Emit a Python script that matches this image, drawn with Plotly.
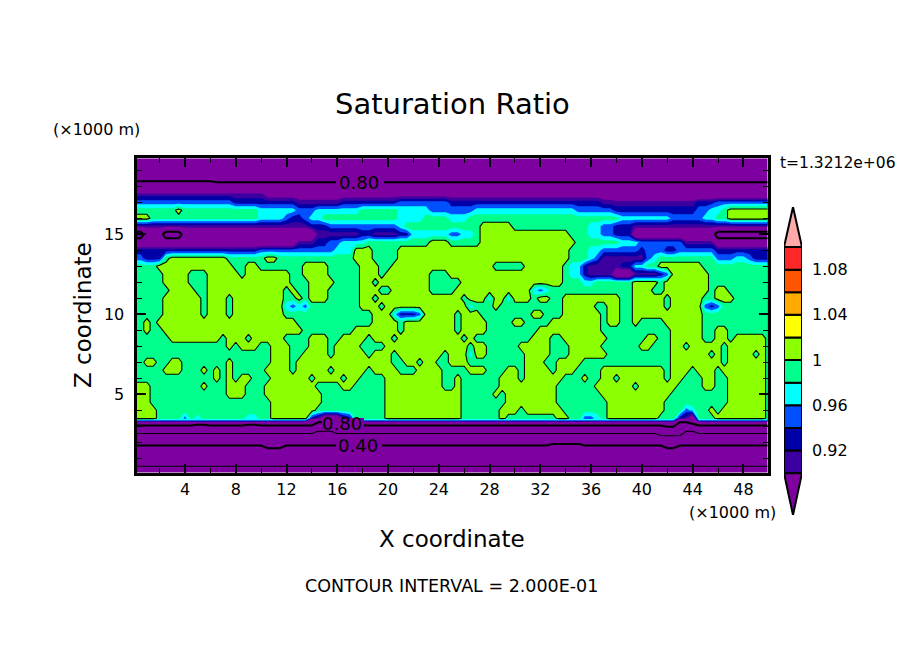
import plotly.graph_objects as go

W, H = 904, 654

# one character per grid point, x every 0.5 km (0 to 50)
# '.' is just under 1, '#' just over 1, other letters are in cell_value
cell_value = {
    "l": 0.12, "m": 0.20, "n": 0.37, "o": 0.40, "q": 0.43, "k": 0.56, "r": 0.60, "s": 0.64,
    "x": 0.70, "z": 0.75, "u": 0.78, "t": 0.80, "v": 0.82, "w": 0.83, "a": 0.85, "p": 0.88,
    "b": 0.91, "c": 0.93, "d": 0.95, "e": 0.97, ".": 0.99, "#": 1.01,
}

y_km = [19.75, 18.6, 17.9, 17.5, 17, 16.5, 16, 15.5, 15, 14.5, 14, 13.5, 13, 12.5, 12, 11.5, 11, 10.5,
        10, 9.5, 9, 8.5, 8, 7.5, 7, 6.5, 6, 5.5, 5, 4.5, 4, 3.5, 3.4, 3.25, 3.05, 2.55, 1.8, 0.5, 0]

rows = [
    "xxxxxxxxxx xxxxxxxxxx xxxxxxxxxx xxxxxxxxxx xxxxxxxxxx xxxxxxxxxx xxxxxxxxxx xxxxxxxxxx xxxxxxxxxx xxxxxxxxxx x",
    "uuuuuuuuuu uuuuuuuuuu uuuuuuuuuu uuuuuuuuuu uuuuuuuuuu uuuuuuuuuu uuuuuuuuuu uuuuuuuuuu uuuuuuuuuu uuuuuuuuuu u",
    "wwwwwwwwww wwwvvvvvvv vvvvvvvvvv vvvvvvvvvv vvvvvvvvvv vvvvvvvvvv vvvvvvvvvv vvvvvvvvvv vvvvvvvvvv vvvvvvvvvv v",
    "bbbbbbbbbb bbbbbbbbbb bppppppppp pppppppppp pppppppppp pppppppppp pppppppppp ppppppaaaa aaaaaaaaaa aaaaaaaaaa a",
    "dddddddddd ddddddcccc ccccccbbbb bbbccccccc ccdddddddd cccccccccc cccccccccc ccccbbbbbb bbbbbbbbbc ccdddddddd d",
    ".......#.. .......... eeeeeeddde eeeeee.... ..eeeeeddd ddddeeeeee eeeeeeeeee ddddddcccc cccccccccd dee.###### #",
    "###....... .......... eeeedccdee .......... ..eeee.... eee....... .......... .......eee eeeeeddddd ee..###### #",
    "bbbbbbbbbb bbbbbbbbbb bbbbbbbbcc cddddddddd dde....... .....##### .......... ..eeddcccb bbbbbbbbbb bbbbbbbbbb b",
    "zzaaazzzaa aaaaaaaaaa aaaaaaaaab bbbbbbccbb bbcceeeeee ddee.##### #########. ..eeddccca aaaaaaaaaa aazzzzzzzz z",
    "aaaaaaaaaa aaaaaaaaaa aaaaaabbbc cddeeee... .......### .....##### ########## .......eee dddddddbbb bbaaaaaaaa a",
    "cccccccccc cccccccccc dddddddddd ddeee###.. ..######## ########## #########. ..eedddddd cdddccdddd ddcccccccc c",
    "ddccc.#### #####..... .##....... .....###.. ..######## ########## #########. ..edbbbbbb bde....... ..dddeedcc c",
    "....###### ######..## .......### #.....###. .######### #######... ..######.e ecbbbbbcce e..####### .......... .",
    ".....####. ..#####.## #####..### #.....###. #######... ########## ########.e ecbbbbaaab bbbcd##### #......... .",
    ".....####. ..######## #####...## ##....##.# #######... ..######## ########.. .ee......# ###.###### #......... .",
    "......#### ..######## ####.#..## #.....###. .######... .######### ###ede.... .........# ##..###### #.##...... .",
    ".....##### #.###.#### ####..#.## #.....##.# ########## ##.###e##e ###.##..## #######..# ####.##### ..###..... .",
    ".....##### #.###.#### ####eded.. ......###. ########## ###e...#.. ........## ###..##..# ####.##### dcd....... .",
    ".....##### #.###.#### ####...... ........## #ecccd#### #.###..... ...##...## ####.##..# ########## .......... .",
    "..#.###### ########## ######.... ........## ##.####### #.####.... ##....#### ####.##..# ....###### .......... .",
    "..#..##### ########## #######... .....##### ##.####### #.####.... ....###### ####...... .....##### ..##...... .",
    "......#### ####.###.# ####....## #..####.## #.######## ##.#...... ...###..## #####..... .##..##### ..##.##### .",
    "#......... .....#.### ..###...## #.####.... ########## ###.##.... .#####...# ####...... ##...##.## ###.###### .",
    ".......... .......... ..###..### #.#####.## #.#######. ###e##.... ..####...# #####..... .....##### #.#.####.# .",
    "..##..##.. .....#.... ..###.#### ########## #..##.##.. ###....... ..###..### #......... .....##### ###.###### .",
    ".....###.. .#.#.#.... .####.#### #.#####.## ##...####. ...###...# #.####.### ....###### ####.###.# ##.####### .",
    ".......... ...#.#.##. ..######.# ###.##.... #########. .#......## #.######.. .#..##.### ####.##... ##..###### .",
    "###....... .#...###.. .########. ...##..... #########. .#......## #######... ...######. ######.... ##..###### .",
    "###....... .....###.. .######### .......... ########## ##.....#.# #######... ....###### #####..... ....###### .",
    "###....... .......... ..######## .......... ########## ##.......# #######... .....##### ####...... ....###### .",
    "####...... .......... ..#######. .......... ########## ##......## #.######.. .....##### ####...de. .#.####### .",
    "####....d. e.......ee ..######cb aaabc..... ########## ##......#. .......##. .dde.##### ###...cba. ..######## .",
    "eeeeeeeeee eeeeeeeeee eeeeeeeeaa aaaaeeeeee eeeeeeeeee eeeeeeeeee eeeeeeeeee eeeeeeeeee eeeeeeaaae eeeeeeeeee e",
    "pppppppppp pppppppppp pppppppppt ttttpppppp pppppppppp pppppppppp pppppppppp pppppppppp ppppppttpp pppppppppp p",
    "tttttttttt uuttttttuu tttttttttx xxxxtttttt tttttttttt tttttttttt tttttttttt tttttttttt ttttwwxxxt tttttttttt t",
    "rrrrrrrrrr rrrrrrrrrr rrrrrrrrrk kkrrrrrrrr rrrrrrrrrr rrrrrrrrrr rrrrrrrrrr rrrrrrrrrr rrrsssskkr rrrrrrrrrr r",
    "oooooooooo oooooooooo oqqqoooooo oooooooooo oooooooooo oooooooooo oooooonnnn nooooooooo ooooqqoooo oooooooooo o",
    "mmmmmmmmmm mmmmmmmmmm mmmmmmmmmm mmmmmmmmmm mmmmmmmmmm mmmmmmmmmm mmmmmmmmmm mmmmmmmmmm mmmmmmmmmm mmmmmmmmmm m",
    "llllllllll llllllllll llllllllll llllllllll llllllllll llllllllll llllllllll llllllllll llllllllll llllllllll l",
]

level_start, level_end, level_step = 0.90, 1.10, 0.02
band_colors = ["#7F00A0", "#3C00A0", "#0000A8", "#0050FF", "#00FFFF", "#00FF8C",
               "#8CFF00", "#FFFF00", "#FFAA00", "#FF5500", "#FF2828", "#FFAAAA"]
bar_levels = [0.90, 0.92, 0.94, 0.96, 0.98, 1.00, 1.02, 1.04, 1.06, 1.08, 1.10]
bar_ticks = [0.92, 0.96, 1.00, 1.04, 1.08]
bar_ticktext = ["0.92", "0.96", "1", "1.04", "1.08"]
x_ticks = [4, 8, 12, 16, 20, 24, 28, 32, 36, 40, 44, 48]
y_ticks = [5, 10, 15]

x_km = [i * 0.5 for i in range(101)]
z = []
for row in reversed(rows):
    chars = row.replace(" ", "").ljust(101, ".")[:101]
    z.append([cell_value[c] for c in chars])
y_up = list(reversed(y_km))

# discrete colours, one per 0.02 band
n = len(band_colors)
scale = []
for k, c in enumerate(band_colors):
    scale.append([k / n, c])
    scale.append([(k + 1) / n, c])


def px(v):
    return v / W


def py(v):
    return 1 - v / H


fig = go.Figure()
fig.add_trace(go.Contour(
    x=x_km, y=y_up, z=z, colorscale=scale, zmin=0.88, zmax=1.12, showscale=False,
    autocontour=False, contours=dict(start=level_start, end=level_end, size=level_step, coloring="fill"),
    line=dict(width=0, smoothing=0), hoverinfo="skip",
))
# the labelled contour lines every 0.2, two widths like the original
fig.add_trace(go.Contour(
    x=x_km, y=y_up, z=z, showscale=False, autocontour=False,
    contours=dict(start=0.2, end=1.0, size=0.4, coloring="none"),
    line=dict(color="black", width=1.1, smoothing=0), hoverinfo="skip",
))
fig.add_trace(go.Contour(
    x=x_km, y=y_up, z=z, showscale=False, autocontour=False,
    contours=dict(start=0.4, end=0.8, size=0.4, coloring="none"),
    line=dict(color="black", width=2, smoothing=0), hoverinfo="skip",
))

# colour bar on its own small axes
for k in range(len(bar_levels) - 1):
    fig.add_trace(go.Bar(
        x=[1], y=[bar_levels[k + 1] - bar_levels[k]], base=[bar_levels[k]], width=1,
        marker=dict(color=band_colors[k + 1], line=dict(color="black", width=2)),
        xaxis="x2", yaxis="y2", showlegend=False,
    ))
fig.add_trace(go.Scatter(
    x=[0.5, 1, 1.5, 0.5], y=[bar_levels[-1], 1.1354, bar_levels[-1], bar_levels[-1]], fill="toself",
    fillcolor=band_colors[-1], mode="lines", line=dict(color="black", width=2),
    xaxis="x2", yaxis="y2", showlegend=False,
))
fig.add_trace(go.Scatter(
    x=[0.5, 1, 1.5, 0.5], y=[bar_levels[0], 0.863, bar_levels[0], bar_levels[0]], fill="toself",
    fillcolor=band_colors[0], mode="lines", line=dict(color="black", width=2),
    xaxis="x2", yaxis="y2", showlegend=False,
))

font_name = "DejaVu Sans"
axis_common = dict(showgrid=False, zeroline=False, showline=True, linecolor="black", linewidth=3,
                   mirror="allticks", ticks="inside", tickcolor="black", tickwidth=2, ticklen=9,
                   tickfont=dict(family=font_name, size=16, color="black"))

fig.update_layout(
    width=W, height=H, autosize=False, margin=dict(l=0, r=0, t=0, b=0),
    paper_bgcolor="white", plot_bgcolor="white", showlegend=False, barmode="overlay",
    font=dict(family=font_name, color="black"),
    xaxis=dict(domain=[px(136.5), px(767.5)], range=[0.18, 49.9], tickvals=x_ticks,
               minor=dict(dtick=2, tick0=0, ticks="inside", ticklen=5, tickcolor="black", tickwidth=1),
               **axis_common),
    yaxis=dict(domain=[py(472.5), py(158)], range=[0.11, 19.77], tickvals=y_ticks, ticklabelstandoff=6,
               minor=dict(dtick=1, tick0=0, ticks="inside", ticklen=5, tickcolor="black", tickwidth=1),
               **axis_common),
    xaxis2=dict(domain=[px(784), px(802)], range=[0.5, 1.5], visible=False, anchor="y2"),
    yaxis2=dict(domain=[py(515), py(207)], range=[0.863, 1.1354], anchor="x2", side="right", showgrid=False,
                zeroline=False, showline=False, ticks="", tickvals=bar_ticks, ticktext=bar_ticktext,
                ticklabelstandoff=9, tickfont=dict(family=font_name, size=16, color="black")),
)


def label(text, x, y, size, **kw):
    fig.add_annotation(text=text, x=px(x), y=py(y), xref="paper", yref="paper", showarrow=False,
                       xanchor="center", yanchor="middle",
                       font=dict(family=font_name, size=size, color="black"), **kw)


# purple patches that break the contour lines behind their labels
def line_gap(x0, x1, y0, y1):
    fig.add_shape(type="rect", xref="paper", yref="paper", x0=px(x0), x1=px(x1), y0=py(y0), y1=py(y1),
                  fillcolor=band_colors[0], line=dict(width=0))


line_gap(336, 384, 176, 189)
line_gap(322, 364, 418, 430)
line_gap(336, 382, 438, 452)

label("Saturation Ratio", 452, 104, 29)
label("X coordinate", 452, 539, 23)
label("Z coordinate", 83, 315, 23, textangle=-90)
label("(×1000 m)", 96, 129, 16)
label("(×1000 m)", 732, 512, 16)
label("t=1.3212e+06", 838, 163, 15.5)
label("CONTOUR INTERVAL = 2.000E-01", 451, 586, 17.5)
label("0.80", 359, 182, 18)
label("0.80", 342, 423, 18)
label("0.40", 358, 445, 18)

# drop the default page margin so the 904x654 figure fills the window
fig.write_html("out.html", config={"displayModeBar": False}, post_script="document.body.style.margin='0';")
